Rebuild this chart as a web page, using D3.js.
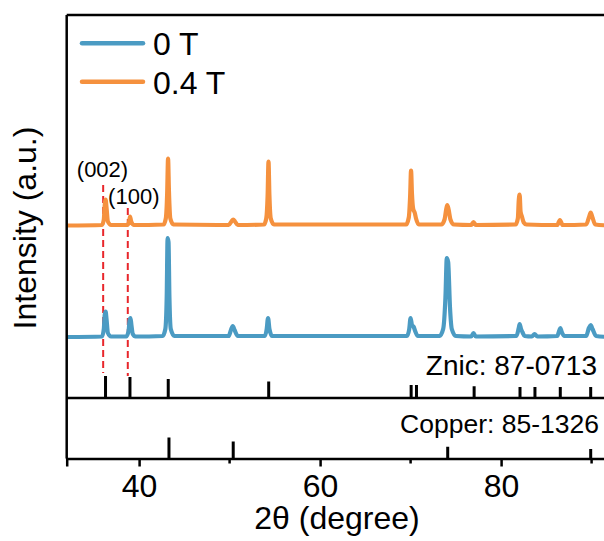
<!DOCTYPE html>
<html>
<head>
<meta charset="utf-8">
<script src="https://cdn.jsdelivr.net/npm/d3@7/dist/d3.min.js"></script>
<style>
  html, body { margin: 0; padding: 0; background: #fff; }
  svg { display: block; }
  text { font-family: "Liberation Sans", Arial, sans-serif; fill: #000; }
</style>
</head>
<body>
<svg id="chart" width="604" height="541"></svg>
<script>
// XRD patterns, [2θ (deg), intensity (a.u.)], baseline at 0
const pattern0T = [
  [32, 0], [35.9, 0.5], [36.1, 8], [36.2, 22], [36.3, 25.5], [36.4, 18], [36.55, 4], [36.9, 0.5],
  [38.6, 0.5], [38.85, 7], [38.95, 17], [39.05, 19], [39.15, 12], [39.3, 3], [39.6, 0.5],
  [42.6, 1], [42.9, 8], [43.05, 40], [43.15, 99], [43.25, 95], [43.35, 40], [43.5, 8], [43.9, 1],
  [49.9, 1], [50.15, 7], [50.35, 11], [50.55, 7], [50.9, 1],
  [53.9, 1], [54.1, 8], [54.25, 19], [54.4, 8], [54.7, 1],
  [69.6, 1], [69.85, 8], [70.0, 19], [70.15, 12], [70.35, 10], [70.5, 6], [70.8, 1],
  [73.2, 1], [73.6, 8], [73.85, 40], [74.0, 79], [74.15, 75], [74.35, 30], [74.55, 8], [75.0, 1],
  [76.7, 0.5], [76.95, 4], [77.2, 0.5],
  [81.7, 1], [81.95, 9], [82.05, 13], [82.2, 8], [82.35, 5], [82.6, 1],
  [83.4, 0.5], [83.7, 3], [84.0, 0.5],
  [86.2, 1], [86.45, 7], [86.55, 9], [86.7, 5], [87.0, 1],
  [89.4, 1], [89.7, 9], [89.9, 12], [90.1, 8], [90.5, 1],
  [92, 0]
];

const pattern04T = [
  [32, 0], [35.9, 0.5], [36.1, 6], [36.2, 20], [36.3, 26], [36.4, 18], [36.55, 4], [36.9, 0.5],
  [38.7, 0.5], [38.9, 4], [39.0, 9], [39.1, 5], [39.4, 0.5],
  [42.7, 1], [42.95, 7], [43.1, 32], [43.2, 67], [43.3, 34], [43.45, 7], [43.8, 1],
  [49.9, 0.5], [50.2, 4], [50.4, 6], [50.6, 4], [50.9, 0.5],
  [53.8, 1], [54.05, 7], [54.2, 30], [54.3, 64], [54.4, 30], [54.55, 7], [54.9, 1],
  [69.5, 1], [69.8, 8], [69.95, 30], [70.05, 55], [70.15, 32], [70.3, 16], [70.45, 13], [70.6, 7], [70.9, 1],
  [73.4, 1], [73.75, 6], [73.95, 17], [74.05, 20.5], [74.2, 16], [74.4, 6], [74.8, 1],
  [76.7, 0.5], [76.95, 3.5], [77.2, 0.5],
  [81.6, 1], [81.85, 7], [81.95, 25], [82.05, 31], [82.15, 14], [82.3, 9], [82.5, 3], [82.8, 1],
  [86.2, 0.5], [86.5, 5.5], [86.8, 0.5],
  [89.4, 1], [89.7, 8], [89.9, 13], [90.1, 8], [90.4, 1],
  [92, 0]
];

// Reference stick patterns
const zincPeaks = [36.29, 38.99, 43.22, 54.32, 70.06, 70.65, 77.02, 82.09, 83.74, 86.54, 89.9];
const zincHeights = [22, 21, 19, 16.5, 13, 13, 11.7, 11, 11, 11, 11];
const copperPeaks = [43.3, 50.4, 74.1, 89.9];
const copperHeights = [21, 17, 11.7, 9.5];

// Plane markers
const planeLabels = ["(002)", "(100)"];
const planePositions = [36.03, 38.75];

const seriesNames = ["0 T", "0.4 T"];
const xTicksMajor = [40, 60, 80];
const xTicksMinor = [50, 70, 90];

const colors = { "0 T": "#4b9bc3", "0.4 T": "#f5913e" };

const svg = d3.select("#chart");

const plotLeft = 66.7, plotRight = 609.7, plotTop = 15, zincBase = 398, plotBottom = 458.5;

const x = d3.scaleLinear().domain([32, 92]).range([plotLeft, plotRight]);
const yMain = d3.scaleLinear().domain([-61, 322]).range([zincBase, plotTop]);
const stackOffset = { "0 T": 0, "0.4 T": 111.5 };
const yStick = d3.scaleLinear().domain([0, 25]).range([0, 25]);

svg.append("clipPath").attr("id", "plotClip")
  .append("rect").attr("x", plotLeft).attr("y", plotTop)
  .attr("width", plotRight - plotLeft).attr("height", plotBottom - plotTop);

const plot = svg.append("g").attr("clip-path", "url(#plotClip)");

// dashed guides for the (002) and (100) reflections
const guideTop = [185, 208];
const guideBottom = [373, 376];
plot.selectAll("line.guide").data(planePositions).join("line")
  .attr("class", "guide")
  .attr("x1", d => x(d)).attr("x2", d => x(d))
  .attr("y1", (d, i) => guideTop[i]).attr("y2", (d, i) => guideBottom[i])
  .attr("stroke", "#e8262b").attr("stroke-width", 2)
  .attr("stroke-dasharray", "7,4");

// diffraction curves
const line = d3.line().curve(d3.curveMonotoneX);
[["0 T", pattern0T], ["0.4 T", pattern04T]].forEach(([name, data]) => {
  plot.append("path")
    .attr("d", line(data.map(d => [x(d[0]), yMain(d[1] + stackOffset[name])])))
    .attr("fill", "none")
    .attr("stroke", colors[name])
    .attr("stroke-width", 4.2)
    .attr("stroke-linejoin", "round")
    .attr("stroke-linecap", "round");
});

// stick patterns
plot.selectAll("line.zn").data(zincPeaks).join("line")
  .attr("class", "zn")
  .attr("x1", d => x(d)).attr("x2", d => x(d))
  .attr("y1", zincBase).attr("y2", (d, i) => zincBase - yStick(zincHeights[i]))
  .attr("stroke", "#000").attr("stroke-width", 3);

plot.selectAll("line.cu").data(copperPeaks).join("line")
  .attr("class", "cu")
  .attr("x1", d => x(d)).attr("x2", d => x(d))
  .attr("y1", plotBottom).attr("y2", (d, i) => plotBottom - yStick(copperHeights[i]))
  .attr("stroke", "#000").attr("stroke-width", 3);

// frame
svg.append("line").attr("x1", plotLeft).attr("x2", plotRight).attr("y1", plotTop).attr("y2", plotTop)
  .attr("stroke", "#000").attr("stroke-width", 2.5);
svg.append("line").attr("x1", plotLeft).attr("x2", plotLeft).attr("y1", plotTop).attr("y2", plotBottom)
  .attr("stroke", "#000").attr("stroke-width", 2.5);
svg.append("line").attr("x1", plotLeft).attr("x2", plotRight).attr("y1", zincBase).attr("y2", zincBase)
  .attr("stroke", "#000").attr("stroke-width", 2.5);

// x axis
const xAxis = d3.axisBottom(x).tickValues(xTicksMajor).tickSize(8).tickPadding(8).tickFormat(d3.format("d"));
const gx = svg.append("g").attr("transform", `translate(0,${plotBottom})`).call(xAxis);
gx.select(".domain").attr("stroke", "#000").attr("stroke-width", 2.5);
gx.selectAll(".tick line").attr("stroke", "#000").attr("stroke-width", 2.5);
gx.selectAll(".tick text").attr("font-size", 32).attr("font-family", "Liberation Sans, Arial, sans-serif").attr("fill", "#000");
svg.append("g").attr("transform", `translate(0,${plotBottom})`)
  .selectAll("line").data(xTicksMinor).join("line")
  .attr("x1", d => x(d)).attr("x2", d => x(d)).attr("y1", 0).attr("y2", 5)
  .attr("stroke", "#000").attr("stroke-width", 2.5);

svg.append("text").attr("x", 337).attr("y", 529).attr("text-anchor", "middle")
  .attr("font-size", 32).text("2θ (degree)");

svg.append("text").attr("transform", "translate(36,228) rotate(-90)")
  .attr("text-anchor", "middle").attr("font-size", 32).text("Intensity (a.u.)");

// reference labels
svg.append("text").attr("x", 597).attr("y", 375).attr("text-anchor", "end")
  .attr("font-size", 28).text("Znic: 87-0713");
svg.append("text").attr("x", 599).attr("y", 433).attr("text-anchor", "end")
  .attr("font-size", 26.5).text("Copper: 85-1326");

// plane labels
const labelX = [102.5, 133.8];
const labelY = [176.7, 204];
planeLabels.forEach((t, i) => {
  svg.append("text").attr("x", labelX[i]).attr("y", labelY[i]).attr("text-anchor", "middle")
    .attr("font-size", 22).text(t);
});

// legend
seriesNames.forEach((name, i) => {
  const ly = 43.3 + i * 38.4;
  svg.append("line").attr("x1", 82).attr("x2", 143).attr("y1", ly).attr("y2", ly)
    .attr("stroke", colors[name]).attr("stroke-width", 4.5).attr("stroke-linecap", "round");
  svg.append("text").attr("x", 153).attr("y", ly + 12).attr("font-size", 32).text(name);
});
</script>
</body>
</html>
